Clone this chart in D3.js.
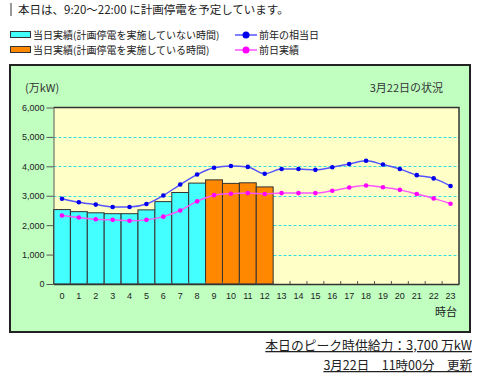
<!DOCTYPE html>
<html><head><meta charset="utf-8">
<script src="https://cdn.jsdelivr.net/npm/d3@7"></script>
<style>body{margin:0;background:#fff;}svg{display:block;font-family:"Noto Sans CJK JP",sans-serif;}</style>
</head><body>
<svg id="c" width="480" height="376"></svg>
<script>
const hours = d3.range(0,24).map(String);
const todayNoOutage = [2530,2460,2420,2390,2390,2520,2800,3110,3430,null,null,null,null];
const todayOutage = [null,null,null,null,null,null,null,null,null,3540,3420,3440,3300];
const lastYearSameDay = [2900,2780,2700,2620,2620,2720,3010,3380,3720,3950,4010,3980,3750,3910,3910,3880,3970,4080,4190,4060,3910,3700,3590,3330];
const previousDay = [2330,2260,2200,2180,2150,2180,2290,2500,2810,3020,3070,3090,3060,3090,3090,3090,3170,3280,3350,3290,3200,3060,2910,2730];
const yTicks = [0,1000,2000,3000,4000,5000,6000];

const svg = d3.select("#c");
const W=480,H=376;
svg.append("rect").attr("width",W).attr("height",H).attr("fill","#fff");

// header
svg.append("rect").attr("x",10).attr("y",3).attr("width",2).attr("height",13).attr("fill","#999");
svg.append("text").attr("x",18).attr("y",14).attr("font-size",11.5).attr("fill","#222")
  .text("本日は、9:20～22:00 に計画停電を予定しています。");

// legend
const legL = [{t:"当日実績(計画停電を実施していない時間)",c:"#44ffff",y:35},{t:"当日実績(計画停電を実施している時間)",c:"#ff8800",y:50}];
legL.forEach(d=>{
  svg.append("rect").attr("x",10.5).attr("y",d.y-3.5).attr("width",20).attr("height",6).attr("fill",d.c).attr("stroke","#333").attr("stroke-width",1);
  svg.append("text").attr("x",33).attr("y",d.y+3.5).attr("font-size",10).attr("fill","#222").text(d.t);
});
const legR = [{t:"前年の相当日",lc:"#5555ff",pc:"#0000ee",y:35},{t:"前日実績",lc:"#ff55ff",pc:"#ff00ff",y:50}];
legR.forEach(d=>{
  svg.append("line").attr("x1",235).attr("x2",257).attr("y1",d.y).attr("y2",d.y).attr("stroke",d.lc).attr("stroke-width",1.5);
  svg.append("circle").attr("cx",246).attr("cy",d.y).attr("r",3.5).attr("fill",d.pc);
  svg.append("text").attr("x",259).attr("y",d.y+3.5).attr("font-size",10).attr("fill","#222").text(d.t);
});

// panel
svg.append("rect").attr("x",10).attr("y",65).attr("width",460).attr("height",267)
  .attr("fill","#c0ffc0").attr("stroke","#222").attr("stroke-width",2);
svg.append("text").attr("x",25).attr("y",92).attr("font-size",11).attr("fill","#333").text("(万kW)");
svg.append("text").attr("x",443).attr("y",92).attr("font-size",11).attr("fill","#333").attr("text-anchor","end").text("3月22日の状況");

const m={l:53.5,t:107.5,r:459,b:284};
const x = d3.scaleBand().domain(hours).range([m.l,m.r]).padding(0);
const y = d3.scaleLinear().domain([0,6000]).range([m.b,m.t]);

svg.append("rect").attr("x",m.l).attr("y",m.t).attr("width",m.r-m.l).attr("height",m.b-m.t)
  .attr("fill","#ffffc8");
// grid
svg.append("g").selectAll("line").data(yTicks.filter(v=>v>0&&v<6000)).join("line")
  .attr("x1",m.l).attr("x2",m.r).attr("y1",d=>Math.round(y(d))+0.5).attr("y2",d=>Math.round(y(d))+0.5)
  .attr("stroke","#33dddd").attr("stroke-dasharray","3,2").attr("stroke-width",1);

// bars
function bars(data,color){
  svg.append("g").selectAll("rect").data(data.map((v,i)=>({v,h:hours[i]})).filter(d=>d.v!=null)).join("rect")
    .attr("x",d=>x(d.h)).attr("y",d=>y(d.v)).attr("width",x.bandwidth()).attr("height",d=>y(0)-y(d.v))
    .attr("fill",color).attr("stroke","#333").attr("stroke-width",1);
}
bars(todayNoOutage,"#44ffff");
bars(todayOutage,"#ff8800");

// frame
svg.append("path").attr("d",`M${m.l},${m.t}H${m.r}V${m.b}`).attr("fill","none").attr("stroke","#333").attr("stroke-width",1.5);

// axes
const ya = d3.axisLeft(y).tickValues(yTicks).tickFormat(d3.format(",")).tickSize(7).tickSizeOuter(0);
const yg = svg.append("g").attr("transform",`translate(${m.l},0)`).call(ya);
yg.select(".domain").attr("stroke","#555");
yg.selectAll("line").attr("stroke","#555");
yg.selectAll("text").attr("font-family","'Liberation Sans',Arial,sans-serif").attr("font-size",9).attr("fill","#222").attr("x",-9);

const xa = d3.axisBottom(x).tickSize(0);
const xg = svg.append("g").attr("transform",`translate(0,${m.b})`).call(xa);
xg.select(".domain").attr("stroke","#333").attr("stroke-width",1.5);
xg.selectAll("text").attr("font-family","'Liberation Sans',Arial,sans-serif").attr("font-size",9).attr("fill","#222").attr("y",9);
// small ticks at slot boundaries
svg.append("g").selectAll("line").data(hours.slice(1)).join("line")
  .attr("x1",d=>x(d)).attr("x2",d=>x(d)).attr("y1",m.b).attr("y2",m.b-3).attr("stroke","#555");

svg.append("text").attr("x",446).attr("y",316).attr("font-size",11).attr("fill","#222").attr("text-anchor","middle").text("時台");

// lines
function series(data,lc,pc){
  const line=d3.line().x((d,i)=>x(hours[i])+x.bandwidth()/2).y(d=>y(d)).curve(d3.curveMonotoneX);
  svg.append("path").datum(data).attr("d",line).attr("fill","none").attr("stroke",lc).attr("stroke-width",1.5);
  svg.append("g").selectAll("circle").data(data).join("circle")
    .attr("cx",(d,i)=>x(hours[i])+x.bandwidth()/2).attr("cy",d=>y(d)).attr("r",2.3).attr("fill",pc);
}
series(lastYearSameDay,"#5555ff","#0000ee");
series(previousDay,"#ff55ff","#ff00ff");

// footer
svg.append("text").attr("x",472).attr("y",350).attr("font-size",12.8).attr("fill","#222").attr("text-anchor","end").attr("text-decoration","underline")
  .text("本日のピーク時供給力：3,700 万kW");
svg.append("text").attr("x",472).attr("y",370).attr("font-size",12.5).attr("fill","#222").attr("text-anchor","end").attr("text-decoration","underline")
  .text("3月22日　11時00分　更新");
</script>
</body></html>
